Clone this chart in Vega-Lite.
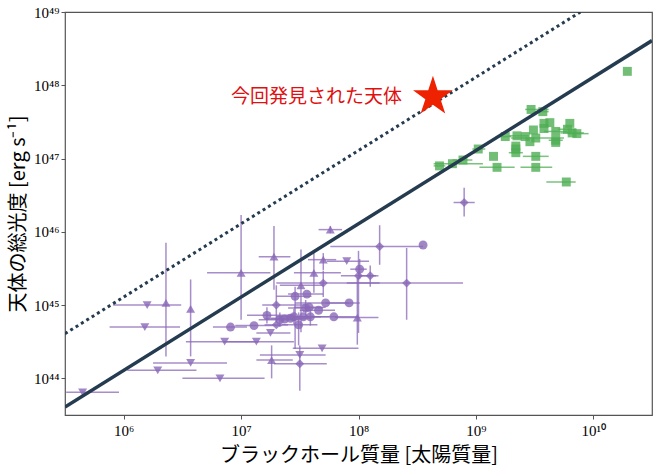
{
  "$schema": "https://vega.github.io/schema/vega-lite/v6.json",
  "width": 587,
  "height": 403,
  "autosize": {"type": "none"},
  "padding": {"left": 65, "top": 12, "right": 6, "bottom": 52},
  "background": "white",
  "config": {
    "view": {"stroke": "#555", "strokeWidth": 1.2},
    "axis": {
      "labelFont": "Liberation Serif", "labelFontSize": 15, "labelColor": "#000",
      "tickColor": "#555", "tickSize": 4, "tickWidth": 1, "domain": false, "grid": false,
      "titleFont": "Noto Sans CJK JP", "titleFontSize": 20, "titleFontWeight": "normal",
      "titleColor": "#000", "labelPadding": 2, "titlePadding": 5
    },
    "axisX": {"labelPadding": 4, "titlePadding": 7}
  },
  "datasets": {
    "pts": [
      {"g": "a", "s": "triangle-down", "m": 5.65, "l": 43.81, "m1": 5.51, "m2": 5.96},
      {"g": "a", "s": "triangle-down", "m": 6.20, "l": 45.00, "m1": 5.91, "m2": 6.49},
      {"g": "a", "s": "triangle-down", "m": 6.18, "l": 44.70, "m1": 5.88, "m2": 6.48},
      {"g": "a", "s": "triangle-down", "m": 6.29, "l": 44.11, "m1": 6.03, "m2": 6.62},
      {"g": "a", "s": "triangle-down", "m": 6.57, "l": 44.21, "m1": 6.25, "m2": 6.88},
      {"g": "a", "s": "triangle-down", "m": 6.82, "l": 44.00, "m1": 6.50, "m2": 7.20},
      {"g": "a", "s": "triangle-down", "m": 6.86, "l": 44.50, "m1": 6.53, "m2": 7.15},
      {"g": "a", "s": "triangle-down", "m": 7.13, "l": 44.50, "m1": 6.85, "m2": 7.45},
      {"g": "a", "s": "triangle-down", "m": 7.25, "l": 44.62, "m1": 7.13, "m2": 7.42},
      {"g": "a", "s": "triangle-down", "m": 7.50, "l": 44.32, "m1": 7.16, "m2": 7.72},
      {"g": "a", "s": "triangle-down", "m": 7.69, "l": 44.41, "m1": 7.44, "m2": 8.00},
      {"g": "a", "s": "triangle-down", "m": 7.90, "l": 45.60, "m1": 7.73, "m2": 8.09},
      {"g": "a", "s": "triangle-up", "m": 6.36, "l": 45.03, "l1": 44.30, "l2": 45.85},
      {"g": "a", "s": "triangle-up", "m": 6.57, "l": 44.95, "l1": 44.30, "l2": 45.35},
      {"g": "a", "s": "triangle-up", "m": 7.00, "l": 45.44, "m1": 6.71, "m2": 7.25, "l1": 44.80, "l2": 46.23},
      {"g": "a", "s": "triangle-up", "m": 7.28, "l": 45.66, "m1": 7.15, "m2": 7.42, "l1": 45.21, "l2": 46.08},
      {"g": "a", "s": "triangle-up", "m": 7.76, "l": 46.03, "m1": 7.66, "m2": 7.86, "l1": 45.98, "l2": 46.08},
      {"g": "a", "s": "triangle-up", "m": 7.70, "l": 45.62, "m1": 7.57, "m2": 7.81, "l1": 45.48, "l2": 45.71},
      {"g": "a", "s": "triangle-up", "m": 7.62, "l": 45.44, "m1": 7.45, "m2": 7.85, "l1": 45.17, "l2": 45.71},
      {"g": "a", "s": "triangle-up", "m": 7.51, "l": 45.27, "m1": 7.33, "m2": 7.70, "l1": 44.63, "l2": 45.76},
      {"g": "a", "s": "triangle-up", "m": 7.99, "l": 44.83, "m1": 7.80, "m2": 8.17, "l1": 44.46, "l2": 45.38},
      {"g": "a", "s": "triangle-up", "m": 7.26, "l": 44.25, "m1": 7.13, "m2": 7.44, "l1": 44.00, "l2": 44.45},
      {"g": "a", "s": "diamond", "m": 8.90, "l": 46.40, "m1": 8.81, "m2": 8.99, "l1": 46.21, "l2": 46.60},
      {"g": "a", "s": "diamond", "m": 8.18, "l": 45.80, "m1": 7.76, "m2": 8.55, "l1": 45.55, "l2": 46.09},
      {"g": "a", "s": "diamond", "m": 8.41, "l": 45.30, "m1": 7.90, "m2": 8.89, "l1": 44.80, "l2": 45.78},
      {"g": "a", "s": "diamond", "m": 8.00, "l": 45.40, "m1": 7.85, "m2": 8.15, "l1": 44.62, "l2": 45.74},
      {"g": "a", "s": "diamond", "m": 8.10, "l": 45.40, "m1": 8.00, "m2": 8.17, "l1": 45.25, "l2": 45.54},
      {"g": "a", "s": "diamond", "m": 7.70, "l": 45.30, "m1": 7.30, "m2": 8.18, "l1": 45.11, "l2": 45.47},
      {"g": "a", "s": "diamond", "m": 7.30, "l": 45.00, "m1": 7.18, "m2": 7.55, "l1": 44.76, "l2": 45.27},
      {"g": "a", "s": "diamond", "m": 7.30, "l": 44.73, "m1": 7.20, "m2": 7.40},
      {"g": "a", "s": "diamond", "m": 7.50, "l": 44.20, "m1": 7.28, "m2": 7.73, "l1": 43.83, "l2": 44.45},
      {"g": "a", "s": "circle", "m": 8.55, "l": 45.82},
      {"g": "a", "s": "circle", "m": 6.91, "l": 44.70, "m1": 6.76, "m2": 7.05},
      {"g": "a", "s": "circle", "m": 7.11, "l": 44.72, "m1": 6.95, "m2": 7.35},
      {"g": "a", "s": "circle", "m": 7.22, "l": 44.86, "m1": 7.05, "m2": 7.45, "l1": 44.75, "l2": 44.97},
      {"g": "a", "s": "circle", "m": 7.46, "l": 45.12, "m1": 7.30, "m2": 7.60, "l1": 44.40, "l2": 45.25},
      {"g": "a", "s": "circle", "m": 7.56, "l": 45.15, "m1": 7.40, "m2": 7.70},
      {"g": "a", "s": "circle", "m": 7.72, "l": 45.03, "m1": 7.46, "m2": 7.92},
      {"g": "a", "s": "circle", "m": 7.92, "l": 45.03, "m1": 7.72, "m2": 8.01},
      {"g": "a", "s": "circle", "m": 8.01, "l": 45.49, "m1": 7.93, "m2": 8.07, "l1": 45.36, "l2": 45.63},
      {"g": "a", "s": "circle", "m": 7.79, "l": 44.84, "m1": 7.60, "m2": 8.00},
      {"g": "a", "s": "circle", "m": 7.66, "l": 44.93, "m1": 7.50, "m2": 7.80},
      {"g": "a", "s": "circle", "m": 7.55, "l": 44.96, "m1": 7.40, "m2": 7.70, "l1": 44.85, "l2": 45.07},
      {"g": "a", "s": "circle", "m": 7.58, "l": 44.97, "m1": 7.45, "m2": 7.72},
      {"g": "a", "s": "circle", "m": 7.59, "l": 44.84, "m1": 7.45, "m2": 7.75, "l1": 44.72, "l2": 44.95},
      {"g": "a", "s": "circle", "m": 7.53, "l": 44.84, "m1": 7.38, "m2": 7.68},
      {"g": "a", "s": "circle", "m": 7.33, "l": 44.80, "m1": 7.15, "m2": 7.50, "l1": 44.70, "l2": 44.90},
      {"g": "a", "s": "circle", "m": 7.37, "l": 44.81, "m1": 7.20, "m2": 7.55},
      {"g": "a", "s": "circle", "m": 7.42, "l": 44.82, "m1": 7.25, "m2": 7.60},
      {"g": "a", "s": "circle", "m": 7.45, "l": 44.84, "m1": 7.30, "m2": 7.62, "l1": 44.74, "l2": 44.95},
      {"g": "a", "s": "circle", "m": 7.49, "l": 44.73, "m1": 7.35, "m2": 7.65, "l1": 44.45, "l2": 44.90},
      {"g": "b", "s": "square", "m": 10.29, "l": 48.19},
      {"g": "b", "s": "square", "m": 9.47, "l": 47.67, "m1": 9.42, "m2": 9.62},
      {"g": "b", "s": "square", "m": 9.57, "l": 47.64, "m1": 9.50, "m2": 9.62},
      {"g": "b", "s": "square", "m": 9.58, "l": 47.48},
      {"g": "b", "s": "square", "m": 9.63, "l": 47.49},
      {"g": "b", "s": "square", "m": 9.80, "l": 47.48},
      {"g": "b", "s": "square", "m": 9.78, "l": 47.40, "m1": 9.70, "m2": 9.85},
      {"g": "b", "s": "square", "m": 9.58, "l": 47.41},
      {"g": "b", "s": "square", "m": 9.49, "l": 47.39},
      {"g": "b", "s": "square", "m": 9.68, "l": 47.37, "m1": 9.58, "m2": 9.78},
      {"g": "b", "s": "square", "m": 9.82, "l": 47.35, "m1": 9.72, "m2": 9.92},
      {"g": "b", "s": "square", "m": 9.86, "l": 47.34, "m1": 9.78, "m2": 9.96},
      {"g": "b", "s": "square", "m": 9.68, "l": 47.25, "m1": 9.62, "m2": 9.74},
      {"g": "b", "s": "square", "m": 9.51, "l": 47.28, "m1": 9.30, "m2": 9.75},
      {"g": "b", "s": "square", "m": 9.42, "l": 47.30},
      {"g": "b", "s": "square", "m": 9.35, "l": 47.31, "m1": 9.28, "m2": 9.45},
      {"g": "b", "s": "square", "m": 9.25, "l": 47.30, "m1": 9.20, "m2": 9.30},
      {"g": "b", "s": "square", "m": 9.46, "l": 47.23},
      {"g": "b", "s": "square", "m": 9.68, "l": 47.22},
      {"g": "b", "s": "square", "m": 9.34, "l": 47.17},
      {"g": "b", "s": "square", "m": 9.34, "l": 47.13},
      {"g": "b", "s": "square", "m": 9.34, "l": 47.08, "m1": 9.28, "m2": 9.40},
      {"g": "b", "s": "square", "m": 9.15, "l": 47.03},
      {"g": "b", "s": "square", "m": 9.02, "l": 47.13, "m1": 8.97, "m2": 9.08},
      {"g": "b", "s": "square", "m": 8.89, "l": 46.98, "m1": 8.80, "m2": 8.97},
      {"g": "b", "s": "square", "m": 8.80, "l": 46.93, "m1": 8.64, "m2": 9.06},
      {"g": "b", "s": "square", "m": 8.69, "l": 46.90, "m1": 8.64, "m2": 8.74},
      {"g": "b", "s": "square", "m": 9.18, "l": 46.88, "m1": 9.03, "m2": 9.33},
      {"g": "b", "s": "square", "m": 9.51, "l": 47.03, "m1": 9.40, "m2": 9.62},
      {"g": "b", "s": "square", "m": 9.51, "l": 46.88, "m1": 9.38, "m2": 9.65},
      {"g": "b", "s": "square", "m": 9.77, "l": 46.68, "m1": 9.60, "m2": 9.85}
    ],
    "lines": [
      {"k": "edd", "m": 5.5, "l": 43.61},
      {"k": "edd", "m": 10.5, "l": 48.61},
      {"k": "edd10", "m": 5.5, "l": 44.61},
      {"k": "edd10", "m": 9.89, "l": 49.0}
    ],
    "found": [
      {"m": 8.634, "l": 47.844, "label": "今回発見された天体"}
    ]
  },
  "layer": [
    {
      "data": {"name": "pts"},
      "transform": [{"filter": "isValid(datum.m1)"}],
      "mark": {"type": "rule", "strokeWidth": 1.5, "opacity": 0.75, "clip": true},
      "encoding": {
        "x": {"field": "m1", "type": "quantitative", "title": "ブラックホール質量 [太陽質量]",
          "scale": {"domain": [5.5, 10.5], "nice": false, "zero": false},
          "axis": {"values": [6, 7, 8, 9, 10], "labelExpr": "datum.value == 6 ? '10⁶' : datum.value == 7 ? '10⁷' : datum.value == 8 ? '10⁸' : datum.value == 9 ? '10⁹' : '10¹⁰'"}},
        "x2": {"field": "m2"},
        "y": {"field": "l", "type": "quantitative", "title": "天体の総光度 [erg s⁻¹]",
          "scale": {"domain": [43.5, 49], "nice": false, "zero": false},
          "axis": {"values": [44, 45, 46, 47, 48, 49], "labelExpr": "datum.value == 44 ? '10⁴⁴' : datum.value == 45 ? '10⁴⁵' : datum.value == 46 ? '10⁴⁶' : datum.value == 47 ? '10⁴⁷' : datum.value == 48 ? '10⁴⁸' : '10⁴⁹'"}},
        "color": {"field": "g", "type": "nominal", "scale": {"domain": ["a", "b"], "range": ["#8a68b8", "#4fae54"]}, "legend": null}
      }
    },
    {
      "data": {"name": "pts"},
      "transform": [{"filter": "isValid(datum.l1)"}],
      "mark": {"type": "rule", "strokeWidth": 1.5, "opacity": 0.75, "clip": true},
      "encoding": {
        "x": {"field": "m", "type": "quantitative", "title": "ブラックホール質量 [太陽質量]",
          "scale": {"domain": [5.5, 10.5], "nice": false, "zero": false},
          "axis": {"values": [6, 7, 8, 9, 10], "labelExpr": "datum.value == 6 ? '10⁶' : datum.value == 7 ? '10⁷' : datum.value == 8 ? '10⁸' : datum.value == 9 ? '10⁹' : '10¹⁰'"}},
        "y": {"field": "l1", "type": "quantitative", "title": "天体の総光度 [erg s⁻¹]",
          "scale": {"domain": [43.5, 49], "nice": false, "zero": false},
          "axis": {"values": [44, 45, 46, 47, 48, 49], "labelExpr": "datum.value == 44 ? '10⁴⁴' : datum.value == 45 ? '10⁴⁵' : datum.value == 46 ? '10⁴⁶' : datum.value == 47 ? '10⁴⁷' : datum.value == 48 ? '10⁴⁸' : '10⁴⁹'"}},
        "y2": {"field": "l2"},
        "color": {"field": "g", "type": "nominal", "scale": {"domain": ["a", "b"], "range": ["#8a68b8", "#4fae54"]}, "legend": null}
      }
    },
    {
      "data": {"name": "pts"},
      "mark": {"type": "point", "filled": true, "opacity": 0.8, "size": 80, "clip": true},
      "encoding": {
        "x": {"field": "m", "type": "quantitative", "title": "ブラックホール質量 [太陽質量]",
          "scale": {"domain": [5.5, 10.5], "nice": false, "zero": false},
          "axis": {"values": [6, 7, 8, 9, 10], "labelExpr": "datum.value == 6 ? '10⁶' : datum.value == 7 ? '10⁷' : datum.value == 8 ? '10⁸' : datum.value == 9 ? '10⁹' : '10¹⁰'"}},
        "y": {"field": "l", "type": "quantitative", "title": "天体の総光度 [erg s⁻¹]",
          "scale": {"domain": [43.5, 49], "nice": false, "zero": false},
          "axis": {"values": [44, 45, 46, 47, 48, 49], "labelExpr": "datum.value == 44 ? '10⁴⁴' : datum.value == 45 ? '10⁴⁵' : datum.value == 46 ? '10⁴⁶' : datum.value == 47 ? '10⁴⁷' : datum.value == 48 ? '10⁴⁸' : '10⁴⁹'"}},
        "shape": {"field": "s", "type": "nominal", "scale": null},
        "color": {"field": "g", "type": "nominal", "scale": {"domain": ["a", "b"], "range": ["#8a68b8", "#4fae54"]}, "legend": null}
      }
    },
    {
      "data": {"name": "lines"},
      "transform": [{"filter": "datum.k == 'edd'"}],
      "mark": {"type": "line", "color": "#253b50", "strokeWidth": 3.5, "clip": true},
      "encoding": {
        "x": {"field": "m", "type": "quantitative", "title": "ブラックホール質量 [太陽質量]",
          "scale": {"domain": [5.5, 10.5], "nice": false, "zero": false},
          "axis": {"values": [6, 7, 8, 9, 10], "labelExpr": "datum.value == 6 ? '10⁶' : datum.value == 7 ? '10⁷' : datum.value == 8 ? '10⁸' : datum.value == 9 ? '10⁹' : '10¹⁰'"}},
        "y": {"field": "l", "type": "quantitative", "title": "天体の総光度 [erg s⁻¹]",
          "scale": {"domain": [43.5, 49], "nice": false, "zero": false},
          "axis": {"values": [44, 45, 46, 47, 48, 49], "labelExpr": "datum.value == 44 ? '10⁴⁴' : datum.value == 45 ? '10⁴⁵' : datum.value == 46 ? '10⁴⁶' : datum.value == 47 ? '10⁴⁷' : datum.value == 48 ? '10⁴⁸' : '10⁴⁹'"}}
      }
    },
    {
      "data": {"name": "lines"},
      "transform": [{"filter": "datum.k == 'edd10'"}],
      "mark": {"type": "line", "color": "#253b50", "strokeWidth": 3, "strokeDash": [3, 3.3], "clip": true},
      "encoding": {
        "x": {"field": "m", "type": "quantitative", "title": "ブラックホール質量 [太陽質量]",
          "scale": {"domain": [5.5, 10.5], "nice": false, "zero": false},
          "axis": {"values": [6, 7, 8, 9, 10], "labelExpr": "datum.value == 6 ? '10⁶' : datum.value == 7 ? '10⁷' : datum.value == 8 ? '10⁸' : datum.value == 9 ? '10⁹' : '10¹⁰'"}},
        "y": {"field": "l", "type": "quantitative", "title": "天体の総光度 [erg s⁻¹]",
          "scale": {"domain": [43.5, 49], "nice": false, "zero": false},
          "axis": {"values": [44, 45, 46, 47, 48, 49], "labelExpr": "datum.value == 44 ? '10⁴⁴' : datum.value == 45 ? '10⁴⁵' : datum.value == 46 ? '10⁴⁶' : datum.value == 47 ? '10⁴⁷' : datum.value == 48 ? '10⁴⁸' : '10⁴⁹'"}}
      }
    },
    {
      "data": {"name": "found"},
      "mark": {"type": "point", "shape": "M0,-1L0.2245,-0.309L0.951,-0.309L0.363,0.118L0.588,0.809L0,0.382L-0.588,0.809L-0.363,0.118L-0.951,-0.309L-0.2245,-0.309Z", "filled": true, "size": 1750, "color": "#ee2200", "opacity": 1},
      "encoding": {
        "x": {"field": "m", "type": "quantitative", "title": "ブラックホール質量 [太陽質量]",
          "scale": {"domain": [5.5, 10.5], "nice": false, "zero": false},
          "axis": {"values": [6, 7, 8, 9, 10], "labelExpr": "datum.value == 6 ? '10⁶' : datum.value == 7 ? '10⁷' : datum.value == 8 ? '10⁸' : datum.value == 9 ? '10⁹' : '10¹⁰'"}},
        "y": {"field": "l", "type": "quantitative", "title": "天体の総光度 [erg s⁻¹]",
          "scale": {"domain": [43.5, 49], "nice": false, "zero": false},
          "axis": {"values": [44, 45, 46, 47, 48, 49], "labelExpr": "datum.value == 44 ? '10⁴⁴' : datum.value == 45 ? '10⁴⁵' : datum.value == 46 ? '10⁴⁶' : datum.value == 47 ? '10⁴⁷' : datum.value == 48 ? '10⁴⁸' : '10⁴⁹'"}}
      }
    },
    {
      "data": {"name": "found"},
      "mark": {"type": "text", "align": "right", "baseline": "middle", "dx": -31, "font": "Noto Sans CJK JP", "fontSize": 19, "color": "#e01010"},
      "encoding": {
        "x": {"field": "m", "type": "quantitative", "title": "ブラックホール質量 [太陽質量]",
          "scale": {"domain": [5.5, 10.5], "nice": false, "zero": false},
          "axis": {"values": [6, 7, 8, 9, 10], "labelExpr": "datum.value == 6 ? '10⁶' : datum.value == 7 ? '10⁷' : datum.value == 8 ? '10⁸' : datum.value == 9 ? '10⁹' : '10¹⁰'"}},
        "y": {"field": "l", "type": "quantitative", "title": "天体の総光度 [erg s⁻¹]",
          "scale": {"domain": [43.5, 49], "nice": false, "zero": false},
          "axis": {"values": [44, 45, 46, 47, 48, 49], "labelExpr": "datum.value == 44 ? '10⁴⁴' : datum.value == 45 ? '10⁴⁵' : datum.value == 46 ? '10⁴⁶' : datum.value == 47 ? '10⁴⁷' : datum.value == 48 ? '10⁴⁸' : '10⁴⁹'"}},
        "text": {"field": "label"}
      }
    }
  ]
}
